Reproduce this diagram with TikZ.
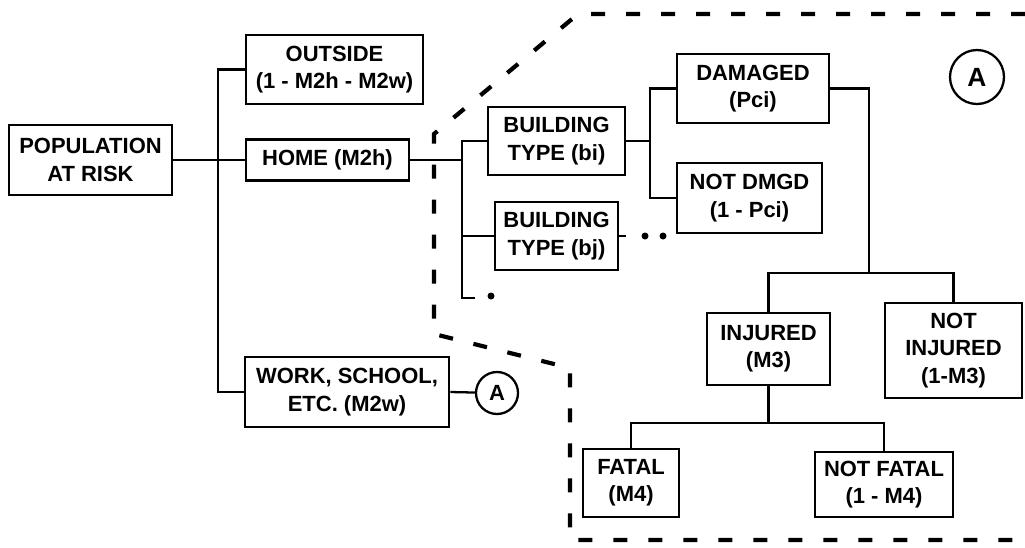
\documentclass[tikz,border=0pt]{standalone}
\usepackage{fontspec}
\setmainfont{Liberation Sans}
\tikzset{boite/.style={draw, line width=1.5pt, align=center, inner sep=0pt,
    font=\bfseries\fontsize{12.5}{15.5}\selectfont},
  lien/.style={line width=1.3pt},
  zone/.style={line width=2.4pt, dash pattern=on 2.8mm off 4.2mm},
  rond/.style={circle, draw, line width=1.3pt, inner sep=0pt},
  point/.style={circle, fill=black, inner sep=0pt, minimum size=1.4mm}}

\begin{document}
\begin{tikzpicture}[x=0.2mm, y=-0.2mm]
  \useasboundingbox (0,0) rectangle (1025,547);

  % La zone en tirets
  \draw[zone] (1025,14) -- (578,14) -- (434,134) -- (434,334) -- (570,368) -- (570,540) -- (1025,540);

  % Les boîtes
  \node[boite, minimum width=32.6mm, minimum height=14mm] (pop) at (90.5,160) {POPULATION\\AT RISK};
  \node[boite, minimum width=35.4mm, minimum height=13.8mm] (dehors) at (334.5,69.5) {OUTSIDE\\(1 - M2h - M2w)};
  \node[boite, minimum width=32.6mm, minimum height=8.2mm] (maison) at (327.5,160) {HOME (M2h)};
  \node[boite, minimum width=40.8mm, minimum height=14mm] (travail) at (347,392) {WORK, SCHOOL,\\ETC. (M2w)};
  \node[boite, minimum width=27.4mm, minimum height=13.6mm] (bi) at (556.5,141) {BUILDING\\TYPE (bi)};
  \node[boite, minimum width=24.6mm, minimum height=13.6mm] (bj) at (556.5,236) {BUILDING\\TYPE (bj)};
  \node[boite, minimum width=30.4mm, minimum height=13.8mm] (dmg) at (753,88.5) {DAMAGED\\(Pci)};
  \node[boite, minimum width=29mm, minimum height=14mm] (ndmg) at (749.5,198) {NOT DMGD\\(1 - Pci)};
  \node[boite, minimum width=24.6mm, minimum height=14.4mm] (inj) at (768.5,349) {INJURED\\(M3)};
  \node[boite, minimum width=27.4mm, minimum height=19mm] (ninj) at (953.5,350.5) {NOT\\INJURED\\(1-M3)};
  \node[boite, minimum width=19.2mm, minimum height=13.6mm] (fatal) at (631,483) {FATAL\\(M4)};
  \node[boite, minimum width=27.6mm, minimum height=13mm] (nfatal) at (884,484.5) {NOT FATAL\\(1 - M4)};

  % Les renvois A
  \node[rond, minimum size=8.4mm, font=\bfseries\fontsize{12.5}{12.5}\selectfont] (a1) at (497,393) {A};
  \node[rond, minimum size=10.8mm, font=\bfseries\fontsize{15}{15}\selectfont] (a2) at (977,77) {A};

  % Les points de suite
  \node[point] (p1) at (645,236) {};
  \node[point] (p2) at (663,236) {};
  \node[point] (p3) at (491,296) {};

  % Les coins
  \coordinate (t) at (218,160);
  \coordinate (h) at (462,160);
  \coordinate (hb) at (462,298);
  \coordinate (hc) at (475,298);
  \coordinate (b) at (650,141);
  \coordinate (d) at (869,273);
  \coordinate (f) at (768.5,423);

  % Les arêtes
  \draw[lien] (pop.east) -- (maison.west);
  \draw[lien] (dehors.west) -| (t) |- (travail.west);
  \draw[lien] (travail.east) -- (a1);
  \draw[lien] (maison.east) -- (h);
  \draw[lien] (bi.west) -| (hb) -- (hc);
  \draw[lien] (bj.west) -- (bj.west -| h);
  \draw[lien] (bj.east) -- ++(7,0);
  \draw[lien] (bi.east) -- (b);
  \draw[lien] (dmg.west) -| (b) |- (ndmg.west);
  \draw[lien] (dmg.east) -| (d);
  \draw[lien] (inj.north) |- (d) -| (ninj.north);
  \draw[lien] (inj.south) -- (f);
  \draw[lien] (fatal.north) |- (f) -| (nfatal.north);
\end{tikzpicture}
\end{document}
